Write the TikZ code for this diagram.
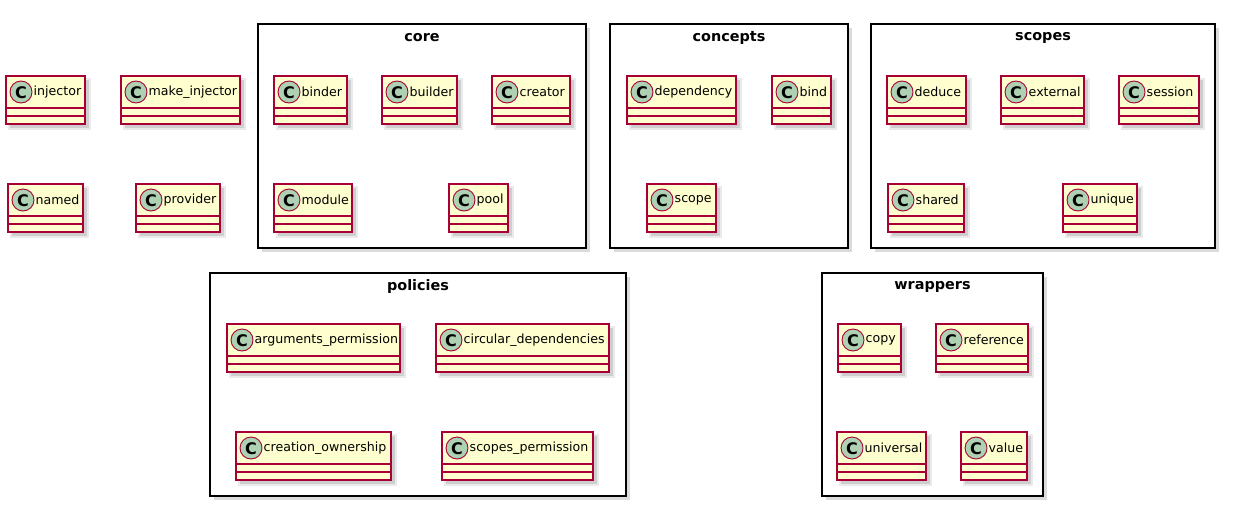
\documentclass[tikz,border=0pt]{standalone}
\usepackage{fontspec}
\setmainfont{DejaVu Sans}
\definecolor{classfill}{HTML}{FEFECE}
\definecolor{classline}{HTML}{A80036}
\definecolor{circfill}{HTML}{ADD1B2}
\definecolor{shadowc}{HTML}{9A9A9A}
\tikzset{
  classborder/.style={draw=classline, line width=1.3pt, fill=classfill},
  sepline/.style={draw=classline, line width=1.3pt},
  classcircle/.style={draw=classline, line width=0.9pt, fill=circfill},
  classname/.style={anchor=west, inner sep=0pt, font=\fontsize{12.6}{14}\selectfont},
  cletter/.style={inner sep=0pt, font=\bfseries\fontsize{16}{18}\selectfont},
  shadowbox/.style={fill=shadowc, opacity=0.35},
  pkgframe/.style={draw=black, line width=1.6pt},
  pkgtitle/.style={inner sep=0pt, font=\bfseries\fontsize{14.4}{16}\selectfont},
}
% name, x1, y1, x2, label
\newcommand{\umlclass}[5]{%
  \fill[shadowbox] (#2+4,#3+4) rectangle (#4+4,#3+52);
  \fill[shadowbox, opacity=0.2] (#2+2,#3+2) rectangle (#4+6,#3+54);
  \path[classborder] (#2,#3) rectangle (#4,#3+48);
  \draw[sepline] (#2,#3+32) -- (#4,#3+32);
  \draw[sepline] (#2,#3+40) -- (#4,#3+40);
  \draw[classcircle] (#2+15,#3+16) circle[radius=11pt];
  \node[cletter] (#1C) at (#2+15,#3+16.5) {C};
  \node[classname] (#1) at (#2+27.5,#3+16) {#5};
}
% name, x1, y1, x2, y2, title
\newcommand{\umlpackage}[6]{%
  \fill[shadowbox] (#2+4,#3+4) rectangle (#4+4,#5+4);
  \path[pkgframe, fill=white] (#2,#3) rectangle (#4,#5);
  \node[pkgtitle] (#1) at ({(#2+#4)/2},#3+13.5) {#6};
}
\begin{document}
\begin{tikzpicture}[x=1pt,y=-1pt]
\useasboundingbox[fill=white] (0,0) rectangle (1249,522);
% free classes
\umlclass{injector}{6}{76}{85}{injector}
\umlclass{makeinjector}{121}{76}{240}{make\_injector}
\umlclass{named}{8}{184}{83}{named}
\umlclass{provider}{136}{184}{220}{provider}
% core
\umlpackage{core}{258}{24}{586}{248}{core}
\umlclass{binder}{274}{76}{347}{binder}
\umlclass{builder}{382}{76}{457}{builder}
\umlclass{creator}{492}{76}{570}{creator}
\umlclass{module}{274}{184}{352}{module}
\umlclass{pool}{449}{184}{508}{pool}
% concepts
\umlpackage{concepts}{610}{24}{848}{248}{concepts}
\umlclass{dependency}{627}{76}{736}{dependency}
\umlclass{bind}{772}{76}{831}{bind}
\umlclass{scope}{647}{184}{716}{scope}
% scopes
\umlpackage{scopes}{871}{24}{1215}{248}{scopes}
\umlclass{deduce}{887}{76}{966}{deduce}
\umlclass{external}{1001}{76}{1084}{external}
\umlclass{session}{1119}{76}{1199}{session}
\umlclass{shared}{888}{184}{964}{shared}
\umlclass{unique}{1063}{184}{1137}{unique}
% policies
\umlpackage{policies}{210}{273}{626}{496}{policies}
\umlclass{argperm}{227}{324}{400}{arguments\_permission}
\umlclass{circdep}{436}{324}{609}{circular\_dependencies}
\umlclass{creatown}{236}{432}{391}{creation\_ownership}
\umlclass{scopeperm}{442}{432}{593}{scopes\_permission}
% wrappers
\umlpackage{wrappers}{822}{273}{1043}{496}{wrappers}
\umlclass{copy}{838}{324}{901}{copy}
\umlclass{reference}{936}{324}{1028}{reference}
\umlclass{universal}{837}{432}{926}{universal}
\umlclass{value}{961}{432}{1027}{value}
\end{tikzpicture}
\end{document}
